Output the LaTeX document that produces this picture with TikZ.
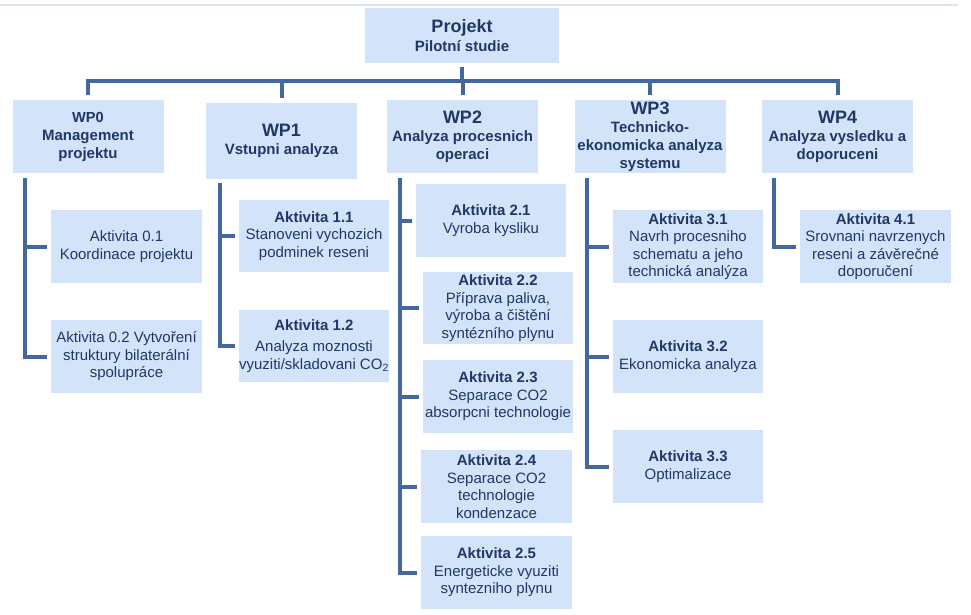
\documentclass[tikz,border=0pt]{standalone}
\usepackage{fontspec}
\setmainfont{Liberation Sans}
\definecolor{boxfill}{RGB}{211,228,250}
\definecolor{txt}{RGB}{31,56,100}
\definecolor{ln}{RGB}{66,104,158}
\definecolor{topline}{RGB}{220,230,243}
\begin{document}
\begin{tikzpicture}[x=1pt,y=-1pt,
  box/.style={fill=boxfill, draw=none, inner sep=0pt, align=center, text=txt,
              font=\fontsize{15}{17.5}\selectfont},
  act/.style={box, minimum width=151pt, minimum height=73pt},
  wp/.style={box, minimum width=151pt, minimum height=73pt,
             font=\bfseries\fontsize{15}{18}\selectfont},
  conn/.style={draw=ln, line width=4pt, line cap=rect}]
\useasboundingbox (0,0) rectangle (971,615);
\fill[white] (0,0) rectangle (971,615);
\draw[topline, line width=1.5pt] (0,5) -- (958,5);

% top
\node[box, minimum width=194pt, minimum height=55pt,
      font=\bfseries\fontsize{15}{19}\selectfont] (proj) at (462,35.5)
  {{\fontsize{18}{20}\selectfont Projekt}\\Pilotní studie};

% work packages
\node[wp] (wp0) at (88,136.5) {{\fontsize{14.6}{18}\selectfont WP0}\\Management\\projektu};
\node[wp, minimum height=76pt] (wp1) at (281.5,141) {{\fontsize{18}{18}\selectfont WP1}\\Vstupni analyza};
\node[wp] (wp2) at (462.5,136.5) {{\fontsize{18}{18}\selectfont WP2}\\Analyza procesnich\\operaci};
\node[wp] (wp3) at (650,136.5) {{\fontsize{18}{18}\selectfont WP3}\\Technicko-\\ekonomicka analyza\\systemu};
\node[wp] (wp4) at (837.5,136.5) {{\fontsize{18}{18}\selectfont WP4}\\Analyza vysledku a\\doporuceni};

% activities
\node[act] (a01) at (126.5,246.5) {Aktivita 0.1\\Koordinace projektu};
\node[act] (a02) at (126.5,356.5) {Aktivita 0.2 Vytvoření\\struktury bilaterální\\spolupráce};

\node[act, minimum width=150pt, minimum height=72pt] (a11) at (314,236) {\textbf{Aktivita 1.1}\\Stanoveni vychozich\\podminek reseni};
\node[act, minimum width=150pt, minimum height=72pt] (a12) at (314,346) {\textbf{Aktivita 1.2}\\[4pt]Analyza moznosti\\vyuziti/skladovani CO\textsubscript{2}};

\node[act, minimum width=150pt] (a21) at (491,220.5) {\textbf{Aktivita 2.1}\\Vyroba kysliku};
\node[act, minimum width=150pt, minimum height=72pt] (a22) at (498,308) {\textbf{Aktivita 2.2}\\Příprava paliva,\\výroba a čištění\\syntézního plynu};
\node[act, minimum width=150pt] (a23) at (498,396.5) {\textbf{Aktivita 2.3}\\Separace CO2\\absorpcni technologie};
\node[act] (a24) at (496.5,486.5) {\textbf{Aktivita 2.4}\\Separace CO2\\technologie\\kondenzace};
\node[act] (a25) at (496.5,572.5) {\textbf{Aktivita 2.5}\\Energeticke vyuziti\\syntezniho plynu};

\node[act, minimum width=150pt] (a31) at (688,246.5) {\textbf{Aktivita 3.1}\\Navrh procesniho\\schematu a jeho\\technická analýza};
\node[act, minimum width=150pt] (a32) at (688,356.5) {\textbf{Aktivita 3.2}\\Ekonomicka analyza};
\node[act, minimum width=150pt] (a33) at (688,466.5) {\textbf{Aktivita 3.3}\\Optimalizace};

\node[act] (a41) at (875.5,246.5) {\textbf{Aktivita 4.1}\\Srovnani navrzenych\\reseni a závěrečné\\doporučení};

% top connectors
\coordinate (hub) at (462,81);
\draw[conn] ([yshift=-6pt]proj.south) -- (hub);
\draw[conn] (wp0.north |- hub) -- (wp4.north |- hub);
\foreach \w in {wp0,wp1,wp2,wp3,wp4}
  \draw[conn] (\w.north |- hub) -- ([yshift=7pt]\w.north);

% spines
\coordinate (s0) at ([xshift=13pt,yshift=-7pt]wp0.south west);
\coordinate (s1) at ([xshift=14pt,yshift=-6pt]wp1.south west);
\coordinate (s2) at ([xshift=13pt,yshift=-7pt]wp2.south west);
\coordinate (s3) at ([xshift=13pt,yshift=-7pt]wp3.south west);
\coordinate (s4) at ([xshift=12pt,yshift=-7pt]wp4.south west);

\draw[conn] (s0) |- ([xshift=-6pt]a02.west);
\draw[conn] (s0 |- a01.west) -- ([xshift=-6pt]a01.west);

\draw[conn] (s1) |- ([xshift=-6pt]a12.west);
\draw[conn] (s1 |- a11.west) -- ([xshift=-6pt]a11.west);

\draw[conn] (s2) |- ([xshift=-6pt]a25.west);
\foreach \a in {a21,a22,a23,a24}
  \draw[conn] (s2 |- \a.west) -- ([xshift=-6pt]\a.west);

\draw[conn] (s3) |- ([xshift=-6pt]a33.west);
\foreach \a in {a31,a32}
  \draw[conn] (s3 |- \a.west) -- ([xshift=-6pt]\a.west);

\draw[conn] (s4) |- ([xshift=-6pt]a41.west);
\end{tikzpicture}
\end{document}
